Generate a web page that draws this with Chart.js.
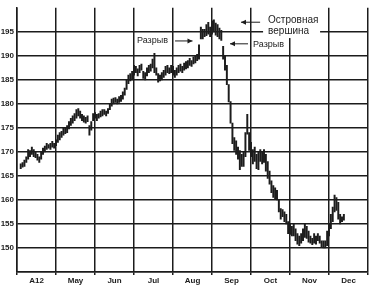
<!DOCTYPE html>
<html lang="ru">
<head>
<meta charset="UTF-8">
<title>Островная вершина</title>
<script src="https://cdn.jsdelivr.net/npm/chart.js"></script>
<style>
    body { margin: 0; background: #fff; }
    .chart-container { position: relative; width: 371px; height: 293px; }
</style>
</head>
<body>
<div class="chart-container"><canvas id="priceChart"></canvas></div>
<script>
// месяцы по оси X, в каждом ~21 торговый день
const monthLabels = ['A12', 'May', 'Jun', 'Jul', 'Aug', 'Sep', 'Oct', 'Nov', 'Dec'];
const daysPerMonth = 21;
// подписи оси Y
const priceTicks = [150, 155, 160, 165, 170, 175, 180, 185, 190, 195];

// дневные минимумы и максимумы (первый бар - торговый день firstDay)
const firstDay = 2;
const lows = [
    166.5, 166.8, 167, 167.8, 168.5, 169, 169.5, 169, 168.8, 168.3,
    167.8, 168.5, 169.5, 170, 170.5, 170.8, 170.5, 171, 170.8, 171.3,
    172, 172.5, 173, 173.5, 173.8, 174, 174.8, 175.5, 176, 176.5,
    177, 177.5, 177, 176.5, 176.2, 176, 176.3, 173.5, 174.5, 176.5,
    177, 176.5, 177, 177.3, 177.5, 177.8, 177.5, 178, 178.8, 179.5,
    180, 180.3, 180, 180.3, 180.5, 181, 181.8, 183, 184.2, 184.8,
    185, 186, 186.5, 185.8, 186.5, 187, 185.3, 185, 185.8, 186.5,
    186.8, 187.5, 186.5, 186, 184.5, 184.8, 185, 185.5, 186, 186.5,
    186.3, 186.5, 186, 185.5, 186, 186.5, 186.8, 186.5, 187, 187.3,
    187.5, 188, 187.8, 188.3, 188.5, 189, 189.3, 193.5, 193.5, 194,
    194.2, 194.5, 194, 194.5, 195, 194.3, 194, 193.5, 193.2, 189.3,
    187, 184, 180.4, 176, 171.7, 170.3, 169.5, 168.5, 166.3, 167,
    167, 169, 173.7, 170.3, 169, 167.5, 168, 166.5, 166.3, 168,
    167.5, 167.8, 166, 164.5, 163.3, 161.5, 160.5, 160.2, 160, 157.5,
    156, 156.5, 155.5, 155, 153, 152.8, 152.5, 152.5, 151.5, 150.8,
    150.5, 151, 151.5, 152.2, 152, 151.2, 151, 150.7, 151, 150.8,
    151.5, 151, 150.2, 150, 150, 150.5, 152.5, 154, 155.5, 157.5,
    157.8, 156, 155, 155.5, 155.8
];
const highs = [
    167.5, 167.8, 168.3, 169, 170.5, 170.3, 171, 170.5, 170, 169.5,
    169, 170, 170.8, 171.2, 171.8, 171.5, 171.8, 172.2, 171.8, 172.5,
    173.5, 174, 174.3, 175, 175, 175.5, 176.3, 177, 177.5, 178,
    178.8, 179, 178.5, 177.8, 177.5, 177.2, 177.5, 175.5, 176.3, 178,
    178.2, 177.8, 178, 178.5, 178.8, 178.8, 178.5, 179, 180, 181,
    181.2, 181.3, 181, 181.5, 181.8, 182.5, 183.3, 185, 186, 186.3,
    186.8, 188, 187.8, 187.3, 188, 188.3, 186.8, 186.5, 187.5, 188,
    188.3, 189.3, 190.5, 187.5, 186.3, 186, 186.5, 187, 187.8, 188,
    187.5, 188, 187.8, 187, 187.5, 188, 188.3, 187.8, 188.5, 188.8,
    189, 189.5, 189, 189.8, 190, 190.3, 192.3, 196, 195.5, 195.5,
    196.5, 197, 196, 197.3, 197.5, 196.8, 196.5, 195.8, 195.3, 192,
    190, 188, 184, 180.5, 176, 173, 172.3, 171, 170.3, 169.5,
    170, 174, 177.8, 174, 172, 170.5, 171, 169.5, 170, 170.5,
    170, 170.5, 169.5, 168, 166, 164, 163, 162.5, 162, 160,
    158.2, 158, 157.5, 157, 155.5, 155, 154.5, 155, 154, 153,
    152.5, 153, 154, 155, 154.5, 153.5, 152.5, 152, 153, 152.5,
    153, 152.5, 151.5, 151.5, 151.5, 153.5, 155, 157, 158.5, 161,
    160.5, 159.5, 157, 156.5, 157
];

const ink = '#1c1c1c';
const bars = highs.map((h, i) => ({ x: firstDay + i, y: [lows[i], h] }));

// деления оси X: границы месяцев и середины (для подписей)
const xTicks = [];
for (let v = 0; v <= monthLabels.length * daysPerMonth; v += daysPerMonth / 2) xTicks.push(v);
const isBoundary = v => v % daysPerMonth === 0;

function arrow(ctx, x1, y1, x2, y2) {
    const dir = Math.sign(x2 - x1);
    ctx.beginPath();
    ctx.moveTo(x1, y1);
    ctx.lineTo(x2, y2);
    ctx.stroke();
    ctx.beginPath();
    ctx.moveTo(x2, y2);
    ctx.lineTo(x2 - dir * 5, y2 - 2.5);
    ctx.lineTo(x2 - dir * 5, y2 + 2.5);
    ctx.closePath();
    ctx.fill();
}

// надписи и стрелки
const notesPlugin = {
    id: 'notes',
    afterDatasetsDraw(chart) {
        const { ctx, scales: { x, y } } = chart;
        ctx.save();
        ctx.fillStyle = '#fff';
        ctx.fillRect(x.getPixelForValue(132.5), 0, x.getPixelForValue(163.2) - x.getPixelForValue(132.5), y.getPixelForValue(193.7));
        ctx.fillStyle = ink;
        ctx.strokeStyle = ink;
        ctx.lineWidth = 1;
        ctx.textBaseline = 'middle';
        ctx.font = '10px "Liberation Sans", Arial, sans-serif';
        ctx.fillText('Островная', x.getPixelForValue(135.2), y.getPixelForValue(197.4));
        ctx.fillText('вершина', x.getPixelForValue(135.2), y.getPixelForValue(195.2));
        arrow(ctx, x.getPixelForValue(130.9), y.getPixelForValue(197), x.getPixelForValue(120.6), y.getPixelForValue(197));

        ctx.font = '9px "Liberation Sans", Arial, sans-serif';
        const w1 = ctx.measureText('Разрыв').width;
        ctx.fillStyle = '#fff';
        ctx.fillRect(x.getPixelForValue(64.6) - 1, y.getPixelForValue(193.1) - 6, w1 + 2, 12);
        ctx.fillRect(x.getPixelForValue(127.1) - 1, y.getPixelForValue(192.4) - 6, w1 + 2, 12);
        ctx.fillStyle = ink;
        ctx.fillText('Разрыв', x.getPixelForValue(64.6), y.getPixelForValue(193.1));
        arrow(ctx, x.getPixelForValue(85.1), y.getPixelForValue(193.1), x.getPixelForValue(94.5), y.getPixelForValue(193.1));
        ctx.fillText('Разрыв', x.getPixelForValue(127.1), y.getPixelForValue(192.4));
        arrow(ctx, x.getPixelForValue(124.4), y.getPixelForValue(192.5), x.getPixelForValue(114.7), y.getPixelForValue(192.5));
        ctx.restore();
    }
};

new Chart(document.getElementById('priceChart'), {
    type: 'bar',
    data: {
        datasets: [{
            data: bars,
            backgroundColor: ink,
            barThickness: 1.3
        }]
    },
    options: {
        responsive: true,
        maintainAspectRatio: false,
        animation: false,
        layout: { padding: { top: 0, right: 3, bottom: 0, left: 0 } },
        plugins: {
            legend: { display: false },
            tooltip: { enabled: false }
        },
        scales: {
            x: {
                type: 'linear',
                min: 0,
                max: monthLabels.length * daysPerMonth,
                offset: false,
                afterBuildTicks: axis => { axis.ticks = xTicks.map(v => ({ value: v })); },
                afterFit: scale => { scale.height = 21; },
                ticks: {
                    autoSkip: false,
                    maxRotation: 0,
                    padding: 1,
                    color: ink,
                    font: { family: '"Liberation Sans", Arial, sans-serif', size: 8, weight: 'bold' },
                    callback: v => isBoundary(v) ? '' : monthLabels[Math.floor(v / daysPerMonth)]
                },
                grid: {
                    offset: false,
                    lineWidth: 1.5,
                    tickLength: 3,
                    color: c => (c.tick && isBoundary(c.tick.value)) ? ink : 'rgba(0,0,0,0)'
                },
                border: { display: true, color: ink, width: 1.5 }
            },
            y: {
                min: 145,
                max: 200,
                afterFit: scale => { scale.width = 17; },
                ticks: {
                    stepSize: 5,
                    padding: 3,
                    color: ink,
                    font: { family: '"Liberation Sans", Arial, sans-serif', size: 8, weight: 'bold' },
                    callback: v => priceTicks.includes(v) ? String(v) : ''
                },
                grid: {
                    drawTicks: false,
                    lineWidth: 1.5,
                    color: c => (c.tick && c.tick.value === 200) ? 'rgba(0,0,0,0)' : ink
                },
                border: { display: true, color: ink, width: 1.5 }
            }
        }
    },
    plugins: [notesPlugin]
});
</script>
</body>
</html>
